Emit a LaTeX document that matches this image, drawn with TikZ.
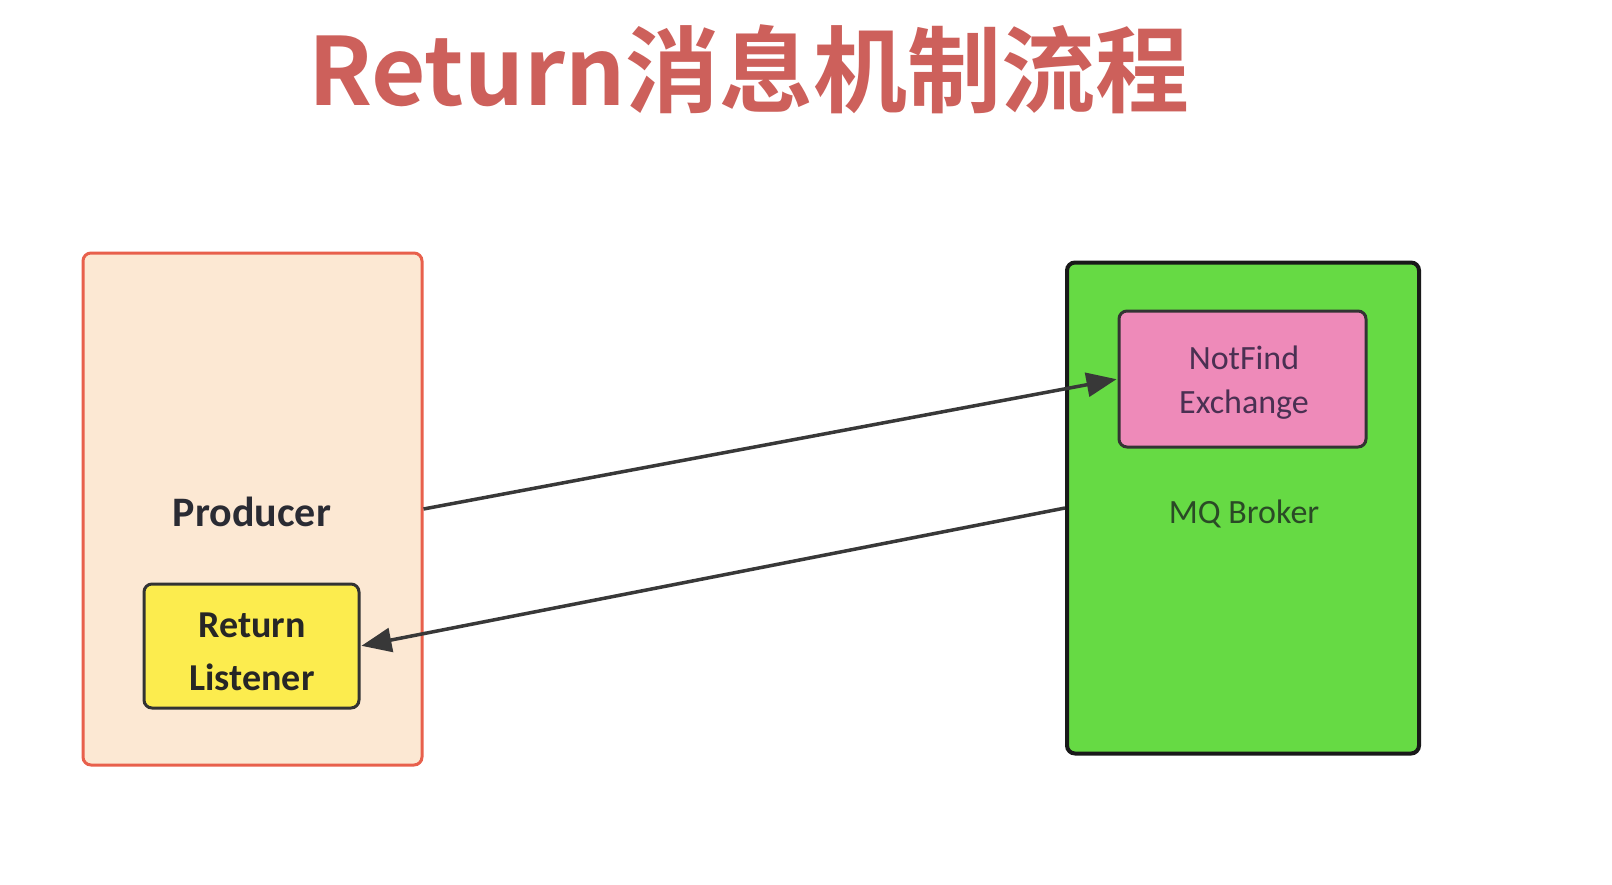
\documentclass[tikz,border=0pt]{standalone}
\usepackage{fontspec}
\setmainfont{Carlito}
\newfontfamily\titlefont{Noto Sans CJK SC}[BoldFont={* Bold}]
\usetikzlibrary{arrows.meta}
\definecolor{titlered}{HTML}{CD605B}
\definecolor{prodfill}{HTML}{FCE8D3}
\definecolor{prodline}{HTML}{E8604C}
\definecolor{lisfill}{HTML}{FCEC4E}
\definecolor{brokfill}{HTML}{66DA44}
\definecolor{exfill}{HTML}{EE8AB9}
\definecolor{darkline}{HTML}{333333}
\definecolor{arrowcol}{HTML}{383838}
\definecolor{extext}{HTML}{4A3052}
\definecolor{broktext}{HTML}{2A4A26}
\definecolor{prodtext}{HTML}{2A2B33}
\tikzset{
  box/.style={rectangle, rounded corners=8pt, inner sep=0pt},
  lbl/.style={align=center, inner sep=0pt},
  conn/.style={draw=arrowcol, line width=3.5pt, -{Triangle[length=30pt,width=24pt]}, shorten >=1pt},
}
\begin{document}
\begin{tikzpicture}[x=1pt,y=-1pt]
\useasboundingbox (0,0) rectangle (1612,884);
\fill[white] (0,0) rectangle (1612,884);
\node[text=titlered, font=\titlefont\bfseries\fontsize{94}{110}\selectfont] (title) at (749,69) {Return消息机制流程};
% boxes
\node[box, draw=prodline, fill=prodfill, line width=3pt, minimum width=339pt, minimum height=512pt] (producer) at (252.5,509) {};
\node[box, draw=darkline, fill=lisfill, line width=3pt, minimum width=215pt, minimum height=124pt] (listener) at (251.5,646) {};
\node[box, draw=black!90, fill=brokfill, line width=4pt, minimum width=352pt, minimum height=491pt] (broker) at (1243,508) {};
\node[box, draw=darkline, fill=exfill, line width=3pt, minimum width=247pt, minimum height=136pt] (exchange) at (1242.5,379) {};
% labels
\node[lbl, text=prodtext, font=\bfseries\fontsize{42}{50}\selectfont] (prodlbl) at (252,512) {Producer};
\node[lbl, text=black!85, font=\bfseries\fontsize{38}{53}\selectfont] (lislbl) at (252,652) {Return\\Listener};
\node[lbl, text=broktext, font=\fontsize{34}{44}\selectfont] (broklbl) at (1244,514) {MQ Broker};
\node[lbl, text=extext, font=\fontsize{34}{44}\selectfont] (exlbl) at (1244,383) {NotFind\\Exchange};
% connectors
\draw[conn] (producer.east) -- (exchange.west);
\draw[conn] (broker.west) -- (listener.east);
\end{tikzpicture}
\end{document}
